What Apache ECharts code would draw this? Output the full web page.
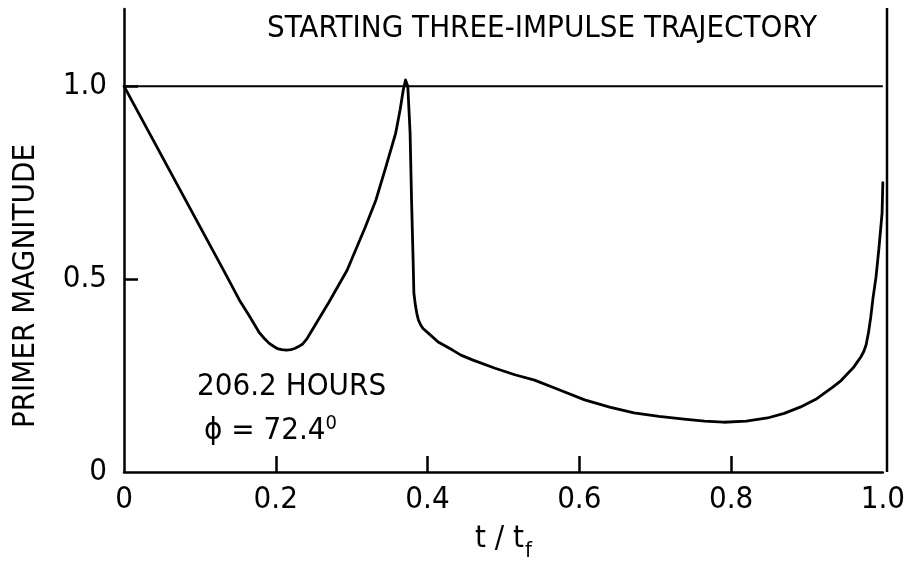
<!DOCTYPE html>
<html>
<head>
<meta charset="utf-8">
<script src="https://cdn.jsdelivr.net/npm/echarts@6/dist/echarts.min.js"></script>
<style>html,body{margin:0;padding:0;background:#fff}#c{width:908px;height:569px}</style>
</head>
<body>
<div id="c"></div>
<script>
var FONT = "'Liberation Sans Narrow','DejaVu Sans Condensed','Liberation Sans',sans-serif";
var titleText = 'STARTING THREE-IMPULSE TRAJECTORY';
var yAxisTitle = 'PRIMER MAGNITUDE';
var xTickValues = [0.2, 0.4, 0.6, 0.8];
var xLabelValues = [0, 0.2, 0.4, 0.6, 0.8, 1.0];
var yTickValues = [0.5, 1.0];
var yLabelValues = [0, 0.5, 1.0];
var tValues = [0, 0.132, 0.152, 0.165, 0.178, 0.185, 0.191, 0.197, 0.202, 0.208, 0.214, 0.220, 0.225, 0.230, 0.235, 0.241, 0.248, 0.270, 0.294, 0.318, 0.332, 0.345, 0.358, 0.364, 0.368, 0.371, 0.374, 0.377, 0.379, 0.381, 0.382, 0.384, 0.386, 0.388, 0.391, 0.394, 0.401, 0.414, 0.433, 0.444, 0.460, 0.489, 0.515, 0.541, 0.575, 0.607, 0.640, 0.672, 0.705, 0.738, 0.765, 0.790, 0.820, 0.848, 0.870, 0.891, 0.913, 0.934, 0.945, 0.954, 0.961, 0.966, 0.971, 0.975, 0.978, 0.981, 0.984, 0.987, 0.991, 0.995, 0.999, 1.0];
var primer = [1.0, 0.52, 0.446, 0.405, 0.362, 0.346, 0.334, 0.326, 0.320, 0.317, 0.316, 0.317, 0.320, 0.325, 0.331, 0.345, 0.368, 0.440, 0.523, 0.635, 0.705, 0.79, 0.878, 0.94, 0.99, 1.016, 1.0, 0.88, 0.7, 0.549, 0.464, 0.432, 0.41, 0.394, 0.381, 0.372, 0.360, 0.337, 0.316, 0.303, 0.290, 0.269, 0.252, 0.238, 0.212, 0.187, 0.168, 0.153, 0.144, 0.137, 0.132, 0.129, 0.132, 0.140, 0.152, 0.168, 0.190, 0.220, 0.237, 0.256, 0.270, 0.284, 0.298, 0.313, 0.330, 0.36, 0.40, 0.45, 0.505, 0.583, 0.671, 0.75];
var refX = [0, 1.0];
var refY = [1.0, 1.0];

var chart = echarts.init(document.getElementById('c'));
chart.setOption({
  backgroundColor: '#fff',
  animation: false,
  title: {
    text: titleText,
    left: 262, top: 8,
    textStyle: {fontFamily: FONT, fontSize: 31, fontWeight: 'normal', color: '#000'}
  },
  grid: {left: 124, right: 21, top: 9, bottom: 97},
  xAxis: {
    type: 'value', min: 0, max: 1.0, interval: 0.2,
    name: '{t|t / t}{s|f}', nameLocation: 'middle', nameGap: 44,
    nameTextStyle: {rich: {
      t: {fontFamily: FONT, fontSize: 31, color: '#000'},
      s: {fontFamily: FONT, fontSize: 22, color: '#000', verticalAlign: 'top', padding: [24, 0, 0, 1]}
    }},
    axisLine: {show: true, lineStyle: {color: '#000', width: 2.5}},
    axisTick: {show: true, inside: true, length: 16, customValues: xTickValues, lineStyle: {color: '#000', width: 2.5}},
    axisLabel: {fontFamily: FONT, fontSize: 31, color: '#000', margin: 12, customValues: xLabelValues,
      formatter: function (v) { return v === 0 ? '0' : v.toFixed(1); }},
    splitLine: {show: false}
  },
  yAxis: {
    type: 'value', min: 0, max: 1.2, interval: 0.5,
    axisLine: {show: true, lineStyle: {color: '#000', width: 2.5}},
    axisTick: {show: true, inside: true, length: 14, customValues: yTickValues, lineStyle: {color: '#000', width: 2.5}},
    axisLabel: {fontFamily: FONT, fontSize: 31, color: '#000', margin: 17, customValues: yLabelValues,
      formatter: function (v) { return v === 0 ? '0' : v.toFixed(1); }},
    splitLine: {show: false}
  },
  graphic: [
    {type: 'line', shape: {x1: 887, y1: 8, x2: 887, y2: 472}, style: {stroke: '#000', lineWidth: 2.5}},
    {type: 'text', x: 26, y: 286, rotation: Math.PI / 2,
      style: {text: yAxisTitle, font: '31px ' + FONT, fill: '#000', align: 'center', verticalAlign: 'middle'}},
    {type: 'text', left: 197, top: 371, style: {text: '206.2 HOURS', font: '31px ' + FONT, fill: '#000'}},
    {type: 'text', left: 204, top: 414, style: {
      text: '{a|\u03D5 = 72.4}{b|0}',
      rich: {a: {fontFamily: FONT, fontSize: 31, fill: '#000'}, b: {fontFamily: FONT, fontSize: 20, fill: '#000', verticalAlign: 'top', padding: [0,0,14,0]}}
    }}
  ],
  series: [
    {type: 'line', data: refX.map(function (x, i) { return [x, refY[i]]; }), symbol: 'none',
      lineStyle: {color: '#000', width: 2}},
    {type: 'line', data: tValues.map(function (x, i) { return [x, primer[i]]; }), symbol: 'none', smooth: false,
      lineStyle: {color: '#000', width: 2.8, join: 'round', cap: 'round'}}
  ]
});
</script>
</body>
</html>
